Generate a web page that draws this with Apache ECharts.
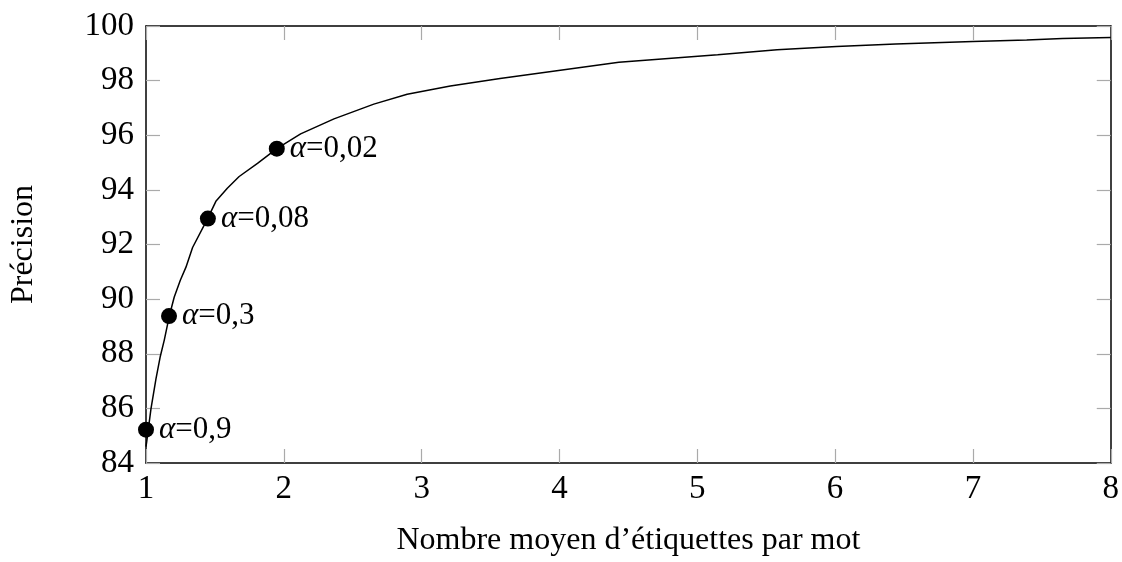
<!DOCTYPE html>
<html>
<head>
<meta charset="utf-8">
<script src="https://cdn.jsdelivr.net/npm/echarts@6/dist/echarts.min.js"></script>
<style>
  html, body { margin: 0; padding: 0; background: #fff; }
  #chart { width: 1122px; height: 562px; }
</style>
</head>
<body>
<div id="chart"></div>
<script>
// courbe precision / nombre d'etiquettes
var curveX = [1.0, 1.005, 1.036, 1.072, 1.104, 1.133, 1.169, 1.205, 1.249, 1.29, 1.338, 1.447, 1.507, 1.59, 1.676, 1.809, 1.949, 2.122, 2.364, 2.653, 2.895, 3.208, 3.569, 4.431, 5.148, 5.579, 6.01, 6.44, 7.0, 7.39, 7.65, 8.0];
var curveY = [84.6, 84.77, 85.98, 87.07, 87.91, 88.51, 89.38, 90.08, 90.69, 91.17, 91.89, 92.95, 93.58, 94.06, 94.49, 94.97, 95.51, 96.05, 96.6, 97.14, 97.5, 97.8, 98.08, 98.67, 98.95, 99.13, 99.25, 99.34, 99.43, 99.49, 99.54, 99.58];

var alphaX = [1.0, 1.167, 1.449, 1.949];
var alphaY = [85.22, 89.38, 92.95, 95.51];
var alphaLabels = ['0,9', '0,3', '0,08', '0,02'];

var xTicks = [1, 8, 1];   // min, max, pas
var yTicks = [84, 100, 2];

var font = 'Liberation Serif';
var fsTick = 33;
var fsName = 32;
var fsLab = 31;

var dom = document.getElementById('chart');
var myChart = echarts.init(dom);

var curve = [];
for (var i = 0; i < curveX.length; i++) {
    curve.push([curveX[i], curveY[i]]);
}
var pts = [];
for (var j = 0; j < alphaX.length; j++) {
    pts.push({ value: [alphaX[j], alphaY[j]], lab: alphaLabels[j] });
}

var tickStyle = { show: true, inside: true, length: 14, lineStyle: { color: '#aaa', width: 1.2 } };

var option = {
    animation: false,
    backgroundColor: '#fff',
    grid: { left: 145, right: 10, top: 26, bottom: 94, show: false },
    xAxis: [{
        type: 'value', min: xTicks[0], max: xTicks[1], interval: xTicks[2],
        position: 'bottom',
        name: 'Nombre moyen d\u2019étiquettes par mot',
        nameLocation: 'middle', nameGap: 62,
        nameTextStyle: { fontFamily: font, fontSize: fsName, color: '#000' },
        axisLine: { lineStyle: { color: '#000', width: 1.5 } },
        axisTick: tickStyle,
        axisLabel: { fontFamily: font, fontSize: fsTick, color: '#000', margin: 10 },
        splitLine: { show: false }
    }, {
        type: 'value', min: xTicks[0], max: xTicks[1], interval: xTicks[2],
        position: 'top',
        axisLine: { lineStyle: { color: '#000', width: 1.5 } },
        axisTick: tickStyle,
        axisLabel: { show: false },
        splitLine: { show: false }
    }],
    yAxis: [{
        type: 'value', min: yTicks[0], max: yTicks[1], interval: yTicks[2],
        position: 'left',
        name: 'Précision',
        nameLocation: 'middle', nameGap: 106, nameRotate: 90,
        nameTextStyle: { fontFamily: font, fontSize: fsName, color: '#000' },
        axisLine: { show: true, lineStyle: { color: '#000', width: 1.5 } },
        axisTick: tickStyle,
        axisLabel: { fontFamily: font, fontSize: fsTick, color: '#000', margin: 12 },
        splitLine: { show: false }
    }, {
        type: 'value', min: yTicks[0], max: yTicks[1], interval: yTicks[2],
        position: 'right',
        axisLine: { show: true, lineStyle: { color: '#000', width: 1.5 } },
        axisTick: tickStyle,
        axisLabel: { show: false },
        splitLine: { show: false }
    }],
    series: [{
        type: 'line',
        data: curve,
        showSymbol: false,
        lineStyle: { color: '#000', width: 1.5 },
        z: 2
    }, {
        type: 'scatter',
        data: pts,
        symbol: 'circle',
        symbolSize: 16,
        itemStyle: { color: '#000', opacity: 1 },
        label: {
            show: true,
            position: 'right',
            distance: 5,
            formatter: function (p) { return '{a|\u03b1}=' + p.data.lab; },
            fontFamily: font, fontSize: fsLab, color: '#000', opacity: 1,
            rich: { a: { fontFamily: font, fontSize: fsLab, fontStyle: 'italic', color: '#000' } }
        },
        z: 3
    }]
};

if (option && typeof option === 'object') {
    myChart.setOption(option, true);
}
</script>
</body>
</html>
